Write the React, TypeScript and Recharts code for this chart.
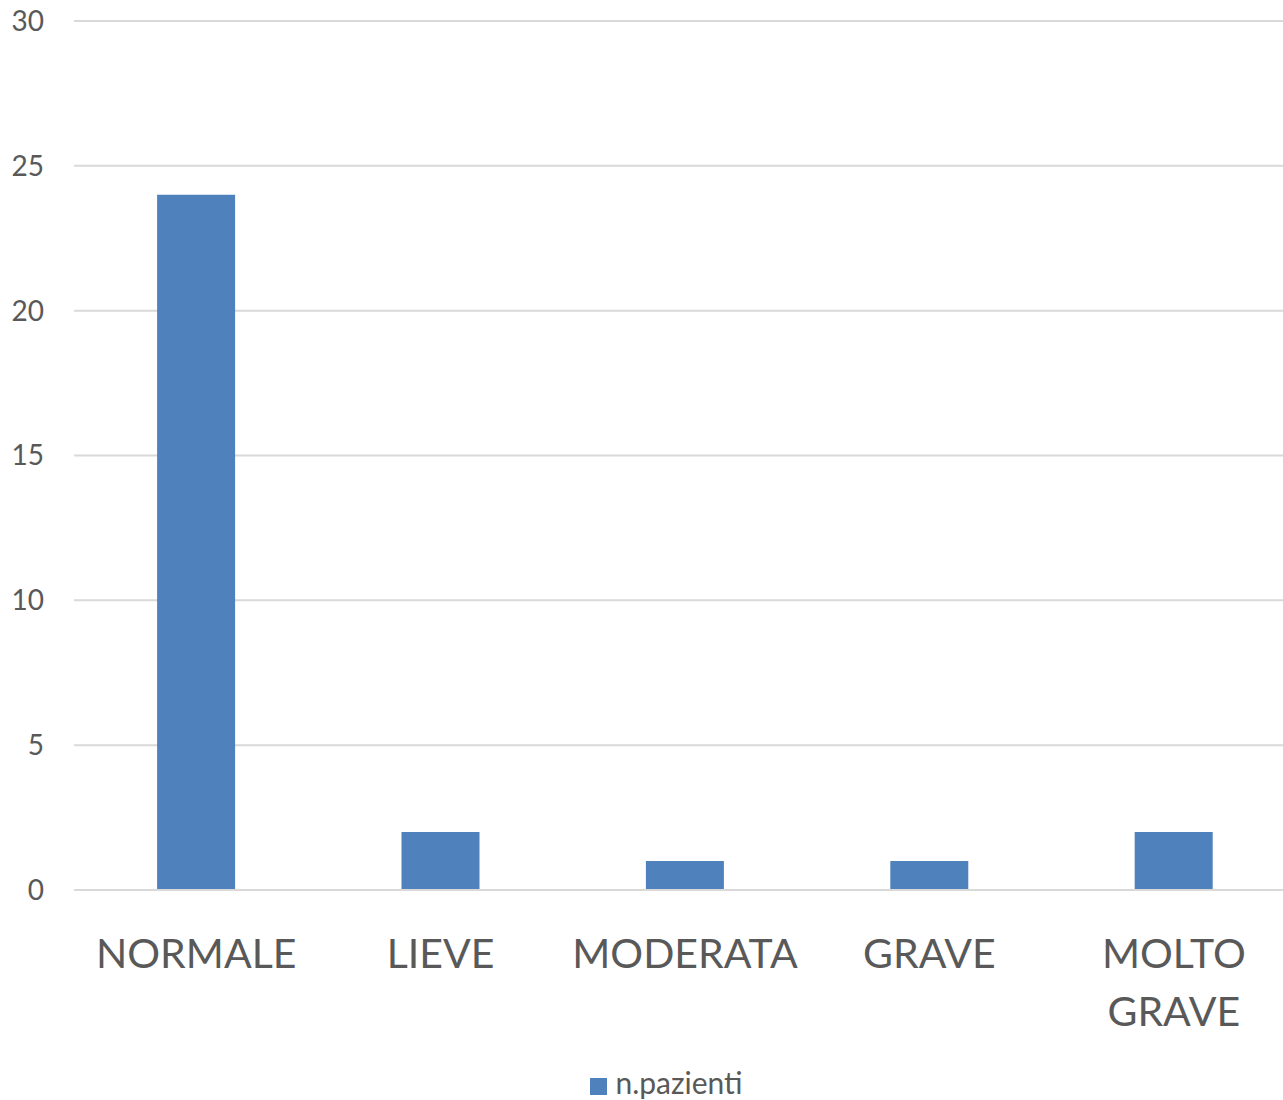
import { BarChart, Bar, XAxis, YAxis, CartesianGrid, Legend } from "recharts";

const CATEGORIES = ["NORMALE", "LIEVE", "MODERATA", "GRAVE", "MOLTO GRAVE"];
const PAZIENTI = [24, 2, 1, 1, 2];
const Y_TICKS = [0, 5, 10, 15, 20, 25, 30];

const BAR_COLOR = "#4F81BD";
const GRID_COLOR = "#D9D9D9";
const TEXT_COLOR = "#595959";
const FONT = "Lato, 'Open Sans', sans-serif";

const data = CATEGORIES.map((name, i) => ({ name, pazienti: PAZIENTI[i] }));

// two-word labels go on two lines, like the last category
function CategoryTick({ x, y, payload }: any) {
	const words = String(payload.value).split(" ");
	return (
		<text
			x={x}
			y={y}
			textAnchor='middle'
			fontSize={41}
			fontFamily={FONT}
			fill={TEXT_COLOR}>
			{words.map((w, i) => (
				<tspan key={w} x={x} dy={i === 0 ? 70 : 58}>
					{w}
				</tspan>
			))}
		</text>
	);
}

export default function App() {
	return (
		<div
			style={{
				position: "absolute",
				left: 0,
				top: 0,
				width: 1283,
				height: 1100,
				overflow: "hidden",
				background: "#fff",
			}}>
			<BarChart
				width={1296}
				height={1100}
				data={data}
				margin={{ top: 21, right: 0, left: 0, bottom: 0 }}
				barCategoryGap='34%'>
				<CartesianGrid vertical={false} stroke={GRID_COLOR} strokeWidth={2} />
				<XAxis
					dataKey='name'
					axisLine={{ stroke: GRID_COLOR, strokeWidth: 2 }}
					tickLine={false}
					tickSize={0}
					tickMargin={8}
					interval={0}
					height={160}
					tick={<CategoryTick />}
				/>
				<YAxis
					width={74}
					domain={[0, 30]}
					ticks={Y_TICKS}
					axisLine={false}
					tickLine={false}
					tickSize={0}
					tickMargin={30}
					tick={{ fill: TEXT_COLOR, fontSize: 28, fontFamily: FONT }}
				/>
				<Legend
					verticalAlign='bottom'
					iconType='square'
					iconSize={17}
					wrapperStyle={{
						height: 50,
						bottom: -14,
						left: 30,
						width: 1283,
						fontFamily: FONT,
						fontSize: 30,
					}}
					formatter={(value: string) => (
						<span style={{ color: TEXT_COLOR, marginLeft: 4 }}>{value}</span>
					)}
				/>
				<Bar
					dataKey='pazienti'
					name='n.pazienti'
					fill={BAR_COLOR}
					isAnimationActive={false}
				/>
			</BarChart>
		</div>
	);
}
